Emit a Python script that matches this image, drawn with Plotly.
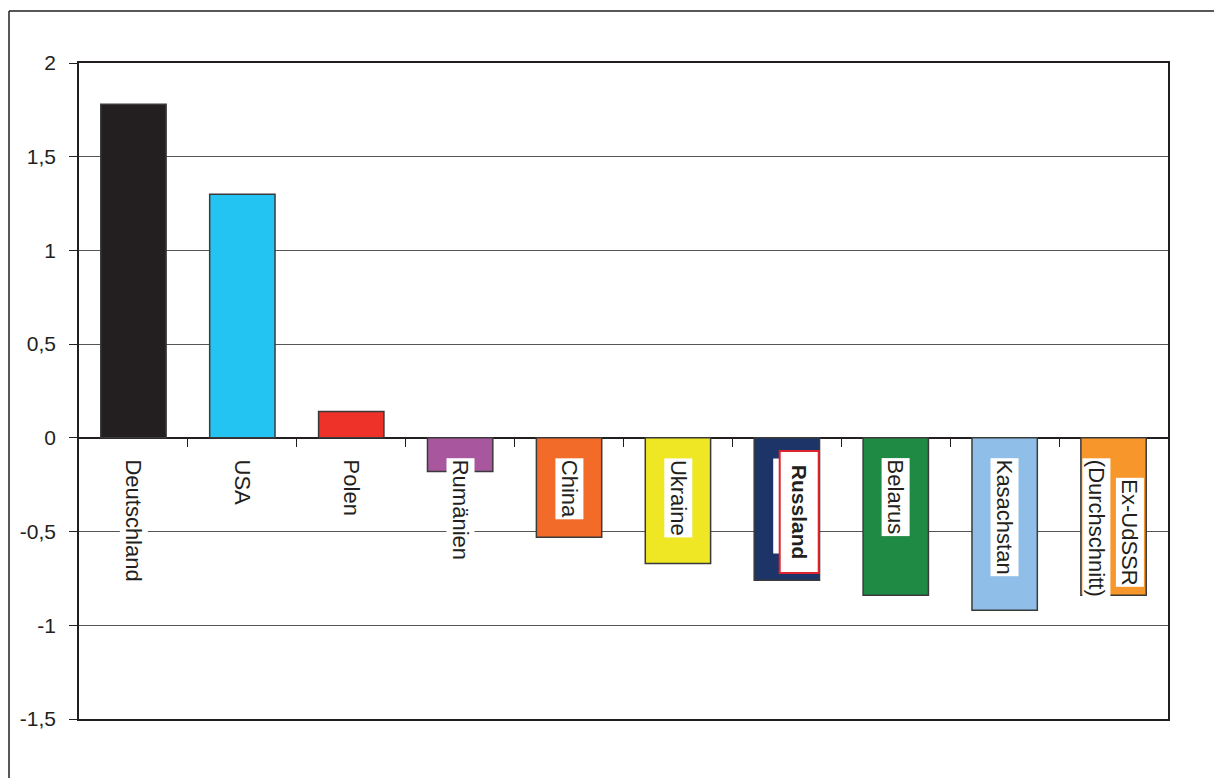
import plotly.graph_objects as go

categories = ["Deutschland", "USA", "Polen", "Rumänien", "China", "Ukraine",
              "Russland", "Belarus", "Kasachstan", "Ex-UdSSR"]
values = [1.78, 1.30, 0.14, -0.18, -0.53, -0.67, -0.76, -0.84, -0.92, -0.84]
colors = ["#231f20", "#23c4f2", "#ee3129", "#a8579f", "#f26b29", "#efe624",
          "#1d3468", "#1e8a43", "#8fbfe8", "#f7962b"]
ytick_vals = [2, 1.5, 1, 0.5, 0, -0.5, -1, -1.5]
ytick_text = ["2", "1,5", "1", "0,5", "0", "-0,5", "-1", "-1,5"]

FONT = "Liberation Sans"
INK = "#231f20"
xs = list(range(len(categories)))

fig = go.Figure()
fig.add_trace(go.Bar(
    x=xs, y=values, width=0.6,
    marker=dict(color=colors, line=dict(color="#3a3a3a", width=1.5)),
    hoverinfo="skip", showlegend=False,
))
# invisible helper trace so the tick axis at zero is drawn
fig.add_trace(go.Scatter(x=[0], y=[0], xaxis="x2", mode="markers",
                         marker=dict(opacity=0), hoverinfo="skip", showlegend=False))

# category labels
for i, name in enumerate(categories):
    if name == "Ex-UdSSR":
        fig.add_annotation(x=i, y=0, xref="x", yref="y", text="(Durchschnitt)",
                           textangle=90, showarrow=False, xanchor="center", yanchor="top",
                           xshift=-17, yshift=-20, bgcolor="white", borderpad=1,
                           font=dict(family=FONT, size=22, color=INK))
        fig.add_annotation(x=i, y=0, xref="x", yref="y", text="Ex-UdSSR",
                           textangle=90, showarrow=False, xanchor="center", yanchor="top",
                           xshift=16, yshift=-39, bgcolor="white", borderpad=1,
                           font=dict(family=FONT, size=22, color=INK))
        continue
    fig.add_annotation(x=i, y=0, xref="x", yref="y", text=name,
                       textangle=90, showarrow=False, xanchor="center", yanchor="top",
                       yshift=-20, bgcolor="white", borderpad=1,
                       font=dict(family=FONT, size=22, color=INK))
    if name == "Russland":
        fig.add_annotation(x=i, y=0, xref="x", yref="y",
                           text="&nbsp;<b>Russland</b>&nbsp;",
                           textangle=90, showarrow=False, xanchor="center", yanchor="top",
                           xshift=12, yshift=-12, bgcolor="white", borderpad=7,
                           bordercolor="#e0242b", borderwidth=2,
                           font=dict(family=FONT, size=21, color=INK))

# outer frame (page border)
fig.add_shape(type="line", xref="paper", yref="paper",
              x0=(9 - 79) / 1089, x1=(1214 - 79) / 1089,
              y0=(719 - 11) / 656, y1=(719 - 11) / 656,
              line=dict(color=INK, width=1.5))
fig.add_shape(type="line", xref="paper", yref="paper",
              x0=(9 - 79) / 1089, x1=(9 - 79) / 1089,
              y0=(719 - 11) / 656, y1=(719 - 790) / 656,
              line=dict(color=INK, width=1.5))

fig.update_layout(
    width=1214, height=778,
    margin=dict(l=79, r=46, t=63, b=59),
    paper_bgcolor="white", plot_bgcolor="white",
    font=dict(family=FONT, size=20, color=INK),
    bargap=0.4,
    xaxis=dict(range=[-0.5, len(categories) - 0.5], showticklabels=False,
               showgrid=False, zeroline=False, showline=True, mirror=True,
               linecolor=INK, linewidth=1.5, ticks="", fixedrange=True),
    xaxis2=dict(overlaying="x", matches="x", anchor="free",
                position=(719 - 438) / 656, showticklabels=False,
                showgrid=False, zeroline=False, showline=False,
                ticks="outside", ticklen=8, tickcolor=INK, tickwidth=1.2,
                tickmode="array", tickvals=[i + 0.5 for i in range(len(categories) - 1)]),
    yaxis=dict(range=[-1.5, 2], tickmode="array", tickvals=ytick_vals, ticktext=ytick_text,
               showgrid=True, gridcolor="#555555", gridwidth=1,
               zeroline=True, zerolinecolor=INK, zerolinewidth=1.5,
               showline=True, mirror=True, linecolor=INK, linewidth=1.5,
               ticks="outside", ticklen=8, tickcolor=INK, tickwidth=1.2,
               tickfont=dict(family=FONT, size=21, color=INK), ticklabelstandoff=9),
)

fig.write_html("out.html")
